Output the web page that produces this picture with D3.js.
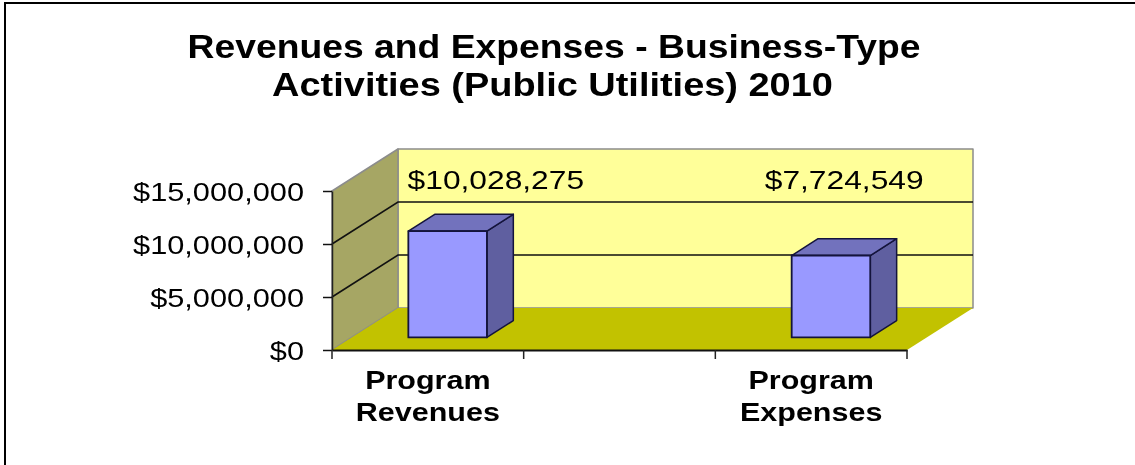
<html>

<head>
    <title>Revenues and Expenses</title>
    <style>
        body { margin: 0; background: #fff; }
        svg { display: block; filter: blur(0.6px); }
        text { font-family: "Liberation Sans", Arial, sans-serif; fill: #000; }
    </style>
</head>

<body>
    <script src="https://d3js.org/d3.v7.min.js"></script>
    <script>
    // data
    var titleLines = ['Revenues and Expenses - Business-Type', 'Activities (Public Utilities) 2010'];
    var categories = ['Program Revenues', '', 'Program Expenses'];
    var values = [10028275, null, 7724549];
    var valueLabels = ['$10,028,275', '', '$7,724,549'];
    var yTicks = [0, 5000000, 10000000, 15000000];

    var width = 1135;
    var height = 465;

    // front plane of the fake 3d box
    var plotLeft = 332, plotRight = 907, plotBottom = 350, plotTop = 191;
    // how far the back wall sits from the front plane
    var depthX = 66, depthY = -42;
    // where the bars sit between front (0) and back (1)
    var barNear = 0.3, barFar = 0.7;

    var svg = d3.select('body').append('svg')
        .attr('width', width)
        .attr('height', height);

    var x = d3.scaleBand().domain(categories).range([plotLeft, plotRight]).paddingInner(0);
    var y = d3.scaleLinear().domain([0, 15000000]).range([plotBottom, plotTop]);

    function poly(points, fill, stroke, w) {
        svg.append('path')
            .attr('d', d3.line()(points) + 'Z')
            .attr('fill', fill)
            .attr('stroke', stroke || 'none')
            .attr('stroke-width', w || 1)
            .attr('stroke-linejoin', 'round');
    }

    // outer frame, only top and left are visible
    svg.append('path')
        .attr('d', d3.line()([[5, height], [5, 3], [width, 3]]))
        .attr('fill', 'none')
        .attr('stroke', '#000')
        .attr('stroke-width', 2);

    // title, the source image is stretched sideways
    var titleStretch = [1.13, 1.15];
    titleLines.forEach(function(line, i) {
        svg.append('text')
            .attr('transform', 'translate(' + (i == 0 ? 554 : 552.5) + ',' + (58 + i * 38) + ') scale(' + titleStretch[i] + ',1)')
            .attr('text-anchor', 'middle')
            .style('font-size', '33px')
            .style('font-weight', 'bold')
            .text(line);
    });

    // back wall, side wall, floor
    poly([[plotLeft + depthX, plotTop + depthY], [plotRight + depthX, plotTop + depthY],
          [plotRight + depthX, plotBottom + depthY], [plotLeft + depthX, plotBottom + depthY]], '#ffff99', '#8c8c8c', 1.5);
    poly([[plotLeft, plotTop], [plotLeft + depthX, plotTop + depthY], [plotLeft + depthX, plotBottom + depthY], [plotLeft, plotBottom]], '#a6a664', '#8c8c8c', 1.5);
    poly([[plotLeft, plotBottom], [plotLeft + depthX, plotBottom + depthY], [plotRight + depthX, plotBottom + depthY], [plotRight, plotBottom]], '#c2c200');

    // gridlines run along the side wall and then across the back wall
    yTicks.slice(1, 3).forEach(function(t) {
        svg.append('path')
            .attr('d', d3.line()([[plotLeft, y(t)], [plotLeft + depthX, y(t) + depthY], [plotRight + depthX, y(t) + depthY]]))
            .attr('fill', 'none')
            .attr('stroke', '#111')
            .attr('stroke-width', 1.6);
    });

    // bars
    categories.forEach(function(c, i) {
        if (values[i] == null) return;

        var w = x.bandwidth() * 0.41;
        var x0 = x(c) + (x.bandwidth() - w) / 2 + depthX * barNear;
        var x1 = x0 + w;
        var yBase = plotBottom + depthY * barNear;
        var yTop = y(values[i]) + depthY * barNear;
        var dx = depthX * (barFar - barNear);
        var dy = depthY * (barFar - barNear);

        poly([[x1, yBase], [x1 + dx, yBase + dy], [x1 + dx, yTop + dy], [x1, yTop]], '#5f5fa0', '#14143c', 1.5);
        poly([[x0, yTop], [x0 + dx, yTop + dy], [x1 + dx, yTop + dy], [x1, yTop]], '#7272bd', '#14143c', 1.5);
        poly([[x0, yBase], [x1, yBase], [x1, yTop], [x0, yTop]], '#9999ff', '#14143c', 1.8);
    });

    // value labels
    var labelShift = [68, 0, 33];
    categories.forEach(function(c, i) {
        if (!valueLabels[i]) return;
        svg.append('text')
            .attr('transform', 'translate(' + (x(c) + x.bandwidth() / 2 + labelShift[i]) + ',189) scale(1.27,1)')
            .attr('text-anchor', 'middle')
            .style('font-size', '25px')
            .text(valueLabels[i]);
    });

    // y axis
    var yAxis = d3.axisLeft(y)
        .tickValues(yTicks)
        .tickSize(9)
        .tickSizeOuter(0)
        .tickFormat(function(d) { return '$' + d3.format(',')(d); });

    var yG = svg.append('g')
        .attr('transform', 'translate(' + plotLeft + ',0)')
        .call(yAxis);
    yG.select('.domain').attr('stroke', '#222').attr('stroke-width', 1.5);
    yG.selectAll('.tick line').attr('stroke', '#111').attr('stroke-width', 1.5);
    yG.selectAll('.tick text')
        .attr('x', null)
        .attr('dy', null)
        .attr('transform', 'translate(-28,9) scale(1.23,1)')
        .style('font-size', '25px');

    // x axis, ticks sit on the band edges
    var xAxis = d3.axisBottom(x).tickSize(0).tickSizeOuter(0);
    var xG = svg.append('g')
        .attr('transform', 'translate(0,' + plotBottom + ')')
        .call(xAxis);
    xG.select('.domain').attr('stroke', '#111').attr('stroke-width', 2);
    xG.selectAll('.tick text')
        .attr('y', null)
        .attr('dy', null)
        .attr('transform', 'scale(1.22,1)')
        .style('font-size', '25px')
        .style('font-weight', 'bold')
        .each(function(d) {
            var t = d3.select(this).text('');
            d.split(' ').forEach(function(word, i) {
                if (!word) return;
                t.append('tspan').attr('x', 0).attr('y', 39 + i * 32).text(word);
            });
        });

    categories.forEach(function(c) {
        xG.append('line').attr('x1', x(c)).attr('x2', x(c)).attr('y1', 0).attr('y2', 9).attr('stroke', '#222').attr('stroke-width', 1.5);
    });
    xG.append('line').attr('x1', plotRight).attr('x2', plotRight).attr('y1', 0).attr('y2', 9).attr('stroke', '#222').attr('stroke-width', 1.5);
    </script>
</body>

</html>
